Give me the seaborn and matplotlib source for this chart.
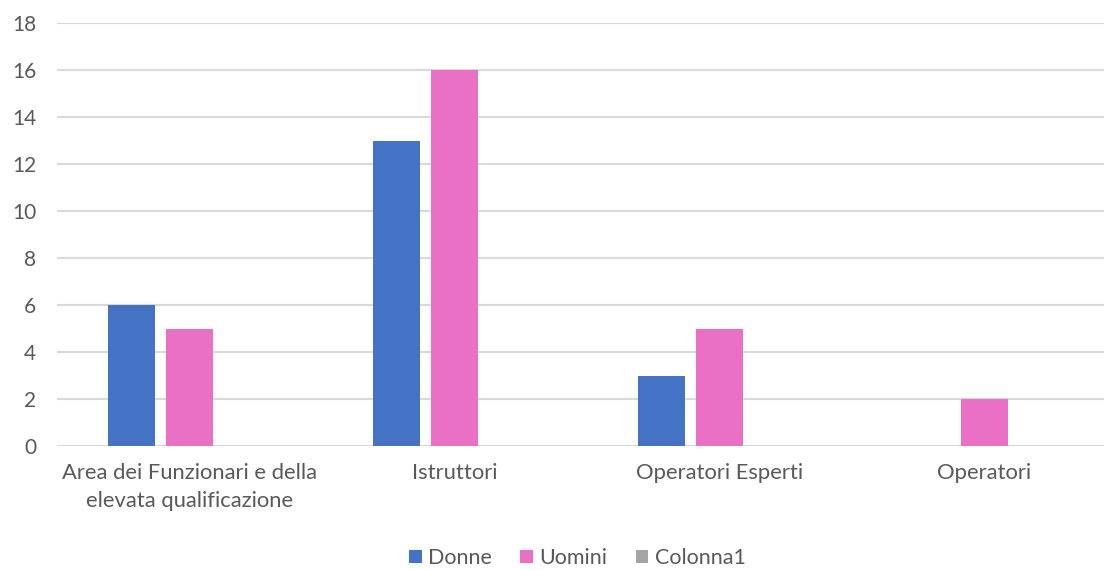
import matplotlib
matplotlib.use("Agg")
import matplotlib.pyplot as plt
import seaborn as sns
import pandas as pd
from matplotlib.patches import Patch

categories = ["Area dei Funzionari e della\nelevata qualificazione", "Istruttori",
              "Operatori Esperti", "Operatori"]
donne = [6, 13, 3, 0]
uomini = [5, 16, 5, 2]
colonna1 = [0, 0, 0, 0]
series_names = ["Donne", "Uomini", "Colonna1"]
colors = ["#4472C4", "#EA70C6", "#A5A5A5"]
yticks = [0, 2, 4, 6, 8, 10, 12, 14, 16, 18]

rows = []
for name, vals in zip(series_names, [donne, uomini, colonna1]):
    for c, v in zip(categories, vals):
        rows.append({"Categoria": c, "Serie": name, "Valore": v})
df = pd.DataFrame(rows)

sns.set_theme(style="white")
plt.rcParams['font.family'] = ['Lato', 'DejaVu Sans']
text_color = "#595959"

fig = plt.figure(figsize=(11.04, 5.70), dpi=100)
ax = fig.add_axes([57/1104, 1 - 446/570, 1060/1104, (446-23)/570])

sns.barplot(data=df, x="Categoria", y="Valore", hue="Serie", order=categories,
            hue_order=series_names, palette=colors, width=0.657, gap=0.19,
            saturation=1, edgecolor="none", linewidth=0, ax=ax, legend=False)

ax.set_xlim(-0.5, 3.5)
ax.set_ylim(0, 18)
ax.set_yticks(yticks)
ax.set_yticklabels([str(t) for t in yticks])
ax.yaxis.grid(True, color="#D9D9D9", linewidth=1.5)
ax.set_axisbelow(True)
for s in ax.spines.values():
    s.set_visible(False)
ax.set_xlabel("")
ax.set_ylabel("")
ax.tick_params(axis="y", length=0, pad=15, labelsize=15, labelcolor=text_color)
ax.tick_params(axis="x", length=0, pad=12, labelsize=15.8, labelcolor=text_color)
for lbl in ax.get_xticklabels():
    lbl.set_linespacing(1.55)

handles = [Patch(facecolor=c, edgecolor="none") for c in colors]
fig.legend(handles, series_names, loc="center", bbox_to_anchor=(0.523, 0.021),
           ncol=3, frameon=False, fontsize=15.5, labelcolor=text_color,
           handlelength=0.6, handleheight=0.6, handletextpad=0.3,
           columnspacing=1.3)

fig.savefig("out.png", dpi=100)
